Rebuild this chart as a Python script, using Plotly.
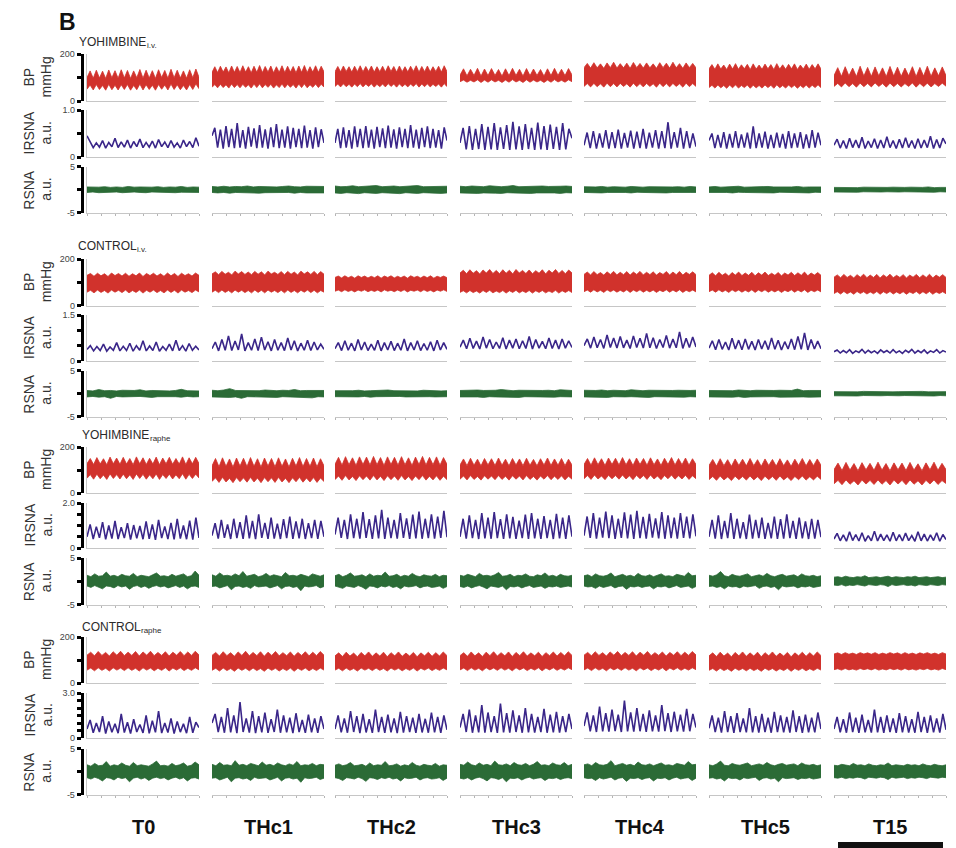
import numpy as np
import plotly.graph_objects as go

W, H = 956, 848

# ---------------- labels ----------------
columns = ["T0", "THc1", "THc2", "THc3", "THc4", "THc5", "T15"]
group_titles = ["YOHIMBINE", "CONTROL", "YOHIMBINE", "CONTROL"]
group_subs = ["i.v.", "i.v.", "raphe", "raphe"]
row_labels = [("BP", "mmHg"), ("IRSNA", "a.u."), ("RSNA", "a.u.")]
bp_range = [0, 200]
bp_ticks = [0, 200]
bp_ticktext = ["0", "200"]
bp_minor = [100]
irsna_max = [1.0, 1.5, 2.0, 3.0]
irsna_top_label = ["1.0", "1.5", "2.0", "3.0"]
irsna_step = 0.5
rsna_range = [-5, 5]
rsna_ticks = [-5, 5]
rsna_ticktext = ["-5", "5"]
rsna_minor = [0]

# ---------------- data: YOHIMBINE i.v. ----------------
bp_hi_yoh_iv = [
    [100,128,97,131,98,127,96,132,99,129,97,133,98,130,96,128,99,134,97,131,98,129,96,133,100,130,97,135,99,131,98,128,97,133,99,136,101],
    [122,146,121,148,123,145,120,149,122,147,121,150,123,146,120,148,122,151,121,147,123,149,120,146,122,150,121,148,123,147,120,149,122,151,121,146,123,150,122,148,124],
    [125,147,124,149,126,146,123,148,125,150,124,147,126,149,123,146,125,148,124,150,126,147,123,149,125,146,124,148,126,150,123,147,125,149,124,146,126,148,123,150,125],
    [110,137,107,135,109,139,106,136,108,138,109,134,106,137,108,139,109,135,106,138,108,136,109,134,106,137,108,139,109,135,108,138,111],
    [142,160,140,163,141,158,139,162,142,165,140,159,141,161,139,164,142,160,140,162,141,158,139,163,142,161,140,165,141,159,139,162,142,160,141],
    [137,155,135,158,136,153,134,157,136,159,135,154,137,156,134,158,136,153,135,157,137,155,134,159,136,154,135,156,137,158,134,153,136,157,135,155,137,158,136],
    [108,142,105,146,107,140,104,148,106,143,105,145,107,141,104,147,106,144,105,140,107,146,104,143,106,148,105,141,107,145,108],
]
bp_lo_yoh_iv = [
    [50,68,47,70,49,66,46,71,48,67,47,69,49,70,46,66,48,72,47,69,49,67,46,70,50,68,47,72,49,69,48,66,47,70,49,73,52],
    [58,70,56,71,57,69,55,72,57,70,56,71,58,69,55,72,57,73,56,70,58,71,55,69,57,72,56,71,58,70,55,72,57,73,56,69,58,72,57,71,59],
    [62,72,60,73,61,71,59,72,61,74,60,72,62,73,59,71,61,72,60,74,62,72,59,73,61,71,60,72,62,74,59,72,61,73,60,71,62,72,59,74,61],
    [82,89,80,88,81,90,79,89,80,90,81,88,79,89,80,91,81,88,79,90,80,89,81,88,79,89,80,91,81,88,80,90,82],
    [62,74,60,75,61,73,59,76,61,74,60,75,62,73,59,76,61,74,60,75,62,73,59,76,61,74,60,75,62,73,59,76,61,74,62],
    [57,67,55,68,56,66,54,68,56,69,55,66,57,68,54,67,56,66,55,68,57,67,54,69,56,66,55,68,57,67,54,66,56,68,55,67,57,69,56],
    [62,75,60,77,61,74,59,76,61,75,60,77,62,74,59,76,61,75,60,74,62,77,59,75,61,76,60,74,62,76,63],
]
irsna_yoh_iv = [
    [0.45,0.33,0.20,0.30,0.21,0.35,0.19,0.31,0.22,0.40,0.20,0.32,0.21,0.36,0.19,0.33,0.22,0.38,0.20,0.31,0.21,0.34,0.19,0.37,0.22,0.32,0.20,0.35,0.21,0.30,0.19,0.36,0.22,0.33,0.20,0.41,0.23],
    [0.45,0.62,0.20,0.58,0.18,0.66,0.21,0.60,0.19,0.72,0.20,0.57,0.18,0.64,0.22,0.61,0.19,0.68,0.20,0.59,0.18,0.63,0.21,0.70,0.19,0.58,0.20,0.65,0.18,0.62,0.21,0.60,0.19,0.67,0.20,0.57,0.18,0.63,0.21,0.59,0.30],
    [0.30,0.60,0.19,0.63,0.20,0.57,0.18,0.65,0.21,0.60,0.19,0.66,0.20,0.58,0.18,0.64,0.21,0.61,0.19,0.67,0.20,0.59,0.18,0.63,0.21,0.60,0.19,0.68,0.20,0.58,0.18,0.62,0.21,0.65,0.19,0.60,0.20,0.57,0.18,0.63,0.35],
    [0.30,0.62,0.16,0.66,0.15,0.60,0.17,0.70,0.15,0.64,0.16,0.72,0.15,0.63,0.17,0.68,0.15,0.75,0.16,0.65,0.15,0.70,0.17,0.62,0.15,0.73,0.16,0.66,0.15,0.69,0.17,0.64,0.15,0.72,0.16,0.60,0.40],
    [0.25,0.52,0.19,0.55,0.18,0.50,0.20,0.57,0.18,0.53,0.19,0.58,0.18,0.51,0.20,0.56,0.18,0.54,0.19,0.60,0.18,0.52,0.20,0.57,0.18,0.55,0.19,0.74,0.18,0.53,0.20,0.62,0.18,0.55,0.19,0.50,0.22],
    [0.35,0.50,0.19,0.47,0.20,0.53,0.18,0.49,0.20,0.55,0.19,0.48,0.20,0.52,0.18,0.65,0.19,0.50,0.20,0.54,0.18,0.47,0.19,0.52,0.20,0.49,0.18,0.55,0.19,0.50,0.20,0.53,0.18,0.48,0.19,0.57,0.20,0.52,0.25],
    [0.25,0.38,0.19,0.35,0.18,0.40,0.20,0.36,0.19,0.42,0.18,0.34,0.20,0.39,0.18,0.36,0.19,0.43,0.20,0.35,0.18,0.38,0.19,0.41,0.20,0.35,0.18,0.39,0.19,0.36,0.20,0.44,0.18,0.37,0.19,0.40,0.28],
]
rsna_hi_yoh_iv = [
    [0.6,0.5,0.55,0.65,0.5,0.6,0.5,0.7,0.55,0.6,0.5,0.55,0.65,0.5,0.6,0.55,0.7,0.5,0.6,0.55],
    [0.7,0.6,0.75,0.6,0.7,0.65,0.8,0.6,0.7,0.65,0.75,0.6,0.7,0.8,0.65,0.6,0.75,0.7,0.6,0.7],
    [0.8,0.65,0.7,0.85,0.65,0.75,0.7,0.9,0.65,0.75,0.8,0.65,0.7,0.75,0.9,0.65,0.7,0.8,0.7,0.75],
    [0.75,0.65,0.8,0.7,0.65,0.85,0.7,0.65,0.75,0.9,0.65,0.7,0.75,0.65,0.8,0.7,0.65,0.75,0.8,0.7],
    [0.65,0.55,0.6,0.7,0.55,0.65,0.6,0.55,0.7,0.6,0.55,0.65,0.6,0.7,0.55,0.6,0.65,0.55,0.7,0.6],
    [0.6,0.7,0.55,0.65,0.6,0.75,0.55,0.6,0.65,0.55,0.7,0.6,0.55,0.65,0.6,0.7,0.55,0.6,0.65,0.6],
    [0.5,0.45,0.55,0.5,0.45,0.55,0.5,0.6,0.45,0.5,0.55,0.45,0.5,0.55,0.45,0.5,0.6,0.45,0.5,0.5],
]
rsna_lo_yoh_iv = [
    [-0.6,-0.5,-0.65,-0.55,-0.6,-0.5,-0.65,-0.55,-0.5,-0.6,-0.65,-0.5,-0.55,-0.6,-0.5,-0.65,-0.55,-0.6,-0.5,-0.6],
    [-0.6,-0.7,-0.6,-0.75,-0.6,-0.65,-0.7,-0.6,-0.75,-0.65,-0.6,-0.7,-0.65,-0.6,-0.75,-0.6,-0.7,-0.65,-0.6,-0.7],
    [-0.7,-0.8,-0.65,-0.75,-0.85,-0.65,-0.7,-0.8,-0.65,-0.75,-0.7,-0.85,-0.65,-0.7,-0.8,-0.65,-0.75,-0.7,-0.8,-0.7],
    [-0.7,-0.75,-0.65,-0.8,-0.7,-0.65,-0.75,-0.8,-0.65,-0.7,-0.75,-0.65,-0.8,-0.7,-0.65,-0.75,-0.7,-0.8,-0.65,-0.7],
    [-0.6,-0.65,-0.55,-0.7,-0.6,-0.55,-0.65,-0.6,-0.7,-0.55,-0.6,-0.65,-0.55,-0.6,-0.7,-0.6,-0.55,-0.65,-0.6,-0.6],
    [-0.6,-0.55,-0.65,-0.6,-0.7,-0.55,-0.6,-0.65,-0.55,-0.6,-0.65,-0.7,-0.55,-0.6,-0.65,-0.55,-0.6,-0.7,-0.55,-0.6],
    [-0.5,-0.55,-0.45,-0.5,-0.55,-0.45,-0.5,-0.55,-0.5,-0.45,-0.55,-0.5,-0.45,-0.5,-0.55,-0.45,-0.5,-0.55,-0.45,-0.5],
]

# ---------------- data: CONTROL i.v. ----------------
bp_hi_ctl_iv = [
    [130,138,126,139,128,137,125,140,129,138,127,139,126,137,128,140,125,138,129,139,127,137,126,140,128,138,125,139,129,137,127,140,130],
    [136,145,133,147,135,143,132,148,136,146,134,144,133,147,135,145,132,148,136,143,134,146,133,147,135,144,132,148,136,145,134,147,133,146,135],
    [121,127,119,128,120,126,118,128,121,127,119,126,120,128,118,127,121,128,119,126,120,127,118,128,121,126,119,127,120,128,118,126,121,127,120],
    [140,152,137,154,139,150,136,153,140,155,138,151,137,154,139,152,136,155,140,151,138,153,137,150,139,154,136,152,140,155,138,151,137,153,140],
    [134,144,132,146,133,142,131,145,134,147,132,143,133,146,131,144,134,147,132,143,133,145,131,142,134,146,132,144,133,147,131,143,134,145,133],
    [130,141,128,143,130,139,127,142,131,144,129,140,130,143,128,141,131,144,129,139,130,142,128,140,131,143,129,141,130,144,128,140,131,142,130],
    [122,132,120,134,121,130,119,133,122,135,120,131,121,134,119,132,122,135,120,130,121,133,119,131,122,134,120,132,121,135,119,131,122,133,121],
]
bp_lo_ctl_iv = [
    [58,66,55,67,57,65,54,67,58,66,56,67,55,65,57,67,54,66,58,67,56,65,55,67,57,66,54,67,58,65,56,67,59],
    [58,66,56,67,57,65,55,67,58,66,56,65,55,67,57,66,55,67,58,65,56,66,55,67,57,65,55,66,58,67,56,66,55,65,58],
    [62,67,60,68,61,66,59,67,62,68,60,66,61,67,59,68,62,66,60,67,61,68,59,66,62,67,60,68,61,66,59,67,62,68,61],
    [57,64,55,65,56,63,54,65,57,66,55,63,56,65,54,64,57,66,55,63,56,65,54,64,57,65,55,63,56,66,54,64,57,65,56],
    [60,67,58,68,59,66,57,68,60,67,58,66,59,68,57,67,60,68,58,66,59,67,57,66,60,68,58,67,59,68,57,66,60,67,59],
    [60,67,58,68,59,66,57,68,60,67,58,66,59,68,57,67,60,68,58,66,59,67,57,66,60,68,58,67,59,68,57,66,60,67,59],
    [52,60,50,61,51,59,49,61,52,60,50,59,51,61,49,60,52,61,50,59,51,60,49,59,52,61,50,60,51,61,49,59,52,60,51],
]
irsna_ctl_iv = [
    [0.38,0.50,0.33,0.47,0.34,0.55,0.32,0.46,0.35,0.60,0.33,0.48,0.34,0.58,0.32,0.50,0.35,0.66,0.33,0.49,0.34,0.62,0.32,0.47,0.35,0.55,0.33,0.68,0.34,0.50,0.32,0.57,0.35,0.48,0.36],
    [0.40,0.62,0.33,0.70,0.35,0.82,0.34,0.65,0.36,0.88,0.33,0.60,0.35,0.72,0.34,0.78,0.36,0.63,0.33,0.70,0.35,0.60,0.34,0.75,0.36,0.66,0.33,0.58,0.35,0.68,0.34,0.62,0.36,0.55,0.38],
    [0.40,0.60,0.34,0.66,0.35,0.58,0.33,0.70,0.36,0.62,0.34,0.55,0.35,0.68,0.33,0.60,0.36,0.64,0.34,0.58,0.35,0.72,0.33,0.60,0.36,0.66,0.34,0.57,0.35,0.63,0.33,0.68,0.36,0.60,0.38],
    [0.45,0.68,0.40,0.74,0.41,0.65,0.39,0.78,0.42,0.70,0.40,0.62,0.41,0.76,0.39,0.68,0.42,0.72,0.40,0.66,0.41,0.80,0.39,0.70,0.42,0.64,0.40,0.75,0.41,0.68,0.39,0.72,0.42,0.66,0.44],
    [0.50,0.72,0.42,0.78,0.43,0.70,0.41,0.85,0.44,0.75,0.42,0.80,0.43,0.68,0.41,0.82,0.44,0.74,0.42,0.90,0.43,0.76,0.41,0.70,0.44,0.83,0.42,0.72,0.43,0.95,0.41,0.74,0.44,0.78,0.46],
    [0.42,0.66,0.37,0.70,0.38,0.62,0.36,0.74,0.39,0.68,0.37,0.72,0.38,0.64,0.36,0.70,0.39,0.66,0.37,0.75,0.38,0.68,0.36,0.63,0.39,0.72,0.37,0.80,0.38,0.92,0.36,0.70,0.39,0.65,0.40],
    [0.30,0.36,0.26,0.34,0.27,0.37,0.25,0.33,0.28,0.38,0.26,0.35,0.27,0.33,0.25,0.36,0.28,0.34,0.26,0.37,0.27,0.33,0.25,0.35,0.28,0.38,0.26,0.34,0.27,0.36,0.25,0.33,0.28,0.37,0.26,0.34,0.29],
]
rsna_hi_ctl_iv = [
    [0.7,0.6,0.9,0.65,0.7,0.6,0.75,0.65,0.7,0.85,0.6,0.7,0.65,0.75,0.6,0.7,0.95,0.65,0.7,0.6],
    [0.75,0.65,0.8,1.1,0.7,0.65,0.75,0.7,0.65,0.8,0.7,0.65,0.75,0.7,0.9,0.65,0.7,0.75,0.65,0.7],
    [0.65,0.6,0.7,0.65,0.75,0.6,0.65,0.7,0.6,0.8,0.65,0.6,0.7,0.65,0.6,0.75,0.65,0.7,0.6,0.65],
    [0.7,0.75,0.65,0.8,0.7,0.65,0.75,0.9,0.7,0.65,0.75,0.7,0.8,0.65,0.7,0.75,0.65,0.85,0.7,0.7],
    [0.75,0.65,0.7,0.8,0.65,0.75,0.7,0.65,0.85,0.7,0.65,0.75,0.7,0.8,0.65,0.7,0.75,0.65,0.7,0.75],
    [0.7,0.65,0.75,0.7,0.65,0.8,0.7,0.65,0.75,0.7,0.65,0.7,0.75,0.65,0.7,1.0,0.65,0.7,0.75,0.7],
    [0.45,0.4,0.5,0.45,0.4,0.5,0.45,0.4,0.5,0.45,0.4,0.45,0.5,0.4,0.45,0.5,0.4,0.45,0.5,0.45],
]
rsna_lo_ctl_iv = [
    [-0.7,-0.6,-0.75,-0.65,-1.0,-0.6,-0.7,-0.65,-0.75,-0.6,-0.7,-0.8,-0.65,-0.6,-0.7,-0.65,-0.75,-0.6,-0.7,-0.65],
    [-0.7,-0.75,-0.65,-0.8,-0.7,-1.0,-0.65,-0.7,-0.75,-0.65,-0.7,-0.8,-0.65,-0.7,-0.75,-0.65,-0.7,-0.9,-0.65,-0.7],
    [-0.65,-0.7,-0.6,-0.65,-0.7,-0.6,-0.75,-0.65,-0.6,-0.7,-0.65,-0.6,-0.7,-0.65,-0.75,-0.6,-0.65,-0.7,-0.6,-0.65],
    [-0.7,-0.65,-0.75,-0.7,-0.8,-0.65,-0.7,-0.75,-0.65,-0.7,-0.8,-0.65,-0.7,-0.75,-0.65,-0.7,-0.75,-0.65,-0.7,-0.7],
    [-0.7,-0.75,-0.65,-0.7,-0.8,-0.65,-0.75,-0.7,-0.65,-0.75,-0.7,-0.8,-0.65,-0.7,-0.75,-0.65,-0.7,-0.75,-0.65,-0.7],
    [-0.7,-0.75,-0.65,-0.7,-0.75,-0.65,-0.8,-0.7,-0.65,-0.75,-0.7,-0.65,-0.75,-0.7,-0.8,-0.65,-0.7,-0.75,-0.65,-0.7],
    [-0.45,-0.5,-0.4,-0.45,-0.5,-0.4,-0.45,-0.5,-0.45,-0.4,-0.5,-0.45,-0.4,-0.45,-0.5,-0.4,-0.45,-0.5,-0.4,-0.45],
]

# ---------------- data: YOHIMBINE raphe ----------------
bp_hi_yoh_raphe = [
    [128,150,124,154,126,149,123,156,127,152,125,155,126,150,123,157,127,153,124,151,126,156,123,152,127,155,125,150,126,157,124,153,127,155,128],
    [118,150,114,153,116,148,113,152,117,151,115,154,116,149,113,152,117,150,114,153,116,148,113,151,117,154,115,150,116,152,114,149,118],
    [125,155,121,158,123,153,120,157,124,156,122,159,123,154,120,157,124,155,121,158,123,153,120,156,124,159,122,155,123,157,121,154,125],
    [122,148,119,151,121,147,118,150,122,149,120,152,121,147,118,150,122,148,119,151,121,146,118,149,122,152,120,148,121,150,119,147,122],
    [124,150,121,153,123,149,120,152,124,151,122,154,123,149,120,152,124,150,121,153,123,148,120,151,124,154,122,150,123,152,121,149,124],
    [120,146,117,149,119,145,116,148,120,147,118,150,119,145,116,148,120,146,117,149,119,144,116,147,120,150,118,146,119,148,121],
    [102,130,98,133,100,128,97,132,101,129,99,134,100,128,97,131,101,130,98,133,100,127,97,131,101,134,99,129,102],
]
bp_lo_yoh_raphe = [
    [64,80,60,82,62,78,59,83,63,80,61,82,62,79,59,83,63,81,60,79,62,83,59,80,63,82,61,79,62,84,60,81,63,82,65],
    [50,66,46,68,48,64,45,67,49,66,47,68,48,65,45,67,49,66,46,68,48,64,45,66,49,68,47,65,48,67,46,65,50],
    [58,74,55,76,57,72,54,75,58,74,56,76,57,73,54,75,58,74,55,76,57,72,54,74,58,76,56,73,57,75,55,73,58],
    [60,74,57,76,59,72,56,75,60,74,58,76,59,73,56,75,60,74,57,76,59,72,56,74,60,76,58,73,59,75,57,73,60],
    [62,76,59,78,61,74,58,77,62,76,60,78,61,75,58,77,62,76,59,78,61,74,58,76,62,78,60,75,61,77,59,75,62],
    [58,72,55,74,57,70,54,73,58,72,56,74,57,71,54,73,58,72,55,74,57,70,54,72,58,74,56,71,57,73,59],
    [40,55,36,57,38,53,35,56,39,55,37,57,38,54,35,56,39,55,36,57,38,53,35,55,39,57,37,54,41],
]
irsna_yoh_raphe = [
    [0.50,1.05,0.40,0.95,0.45,1.15,0.38,1.00,0.42,1.20,0.40,0.92,0.44,1.10,0.37,1.02,0.43,0.98,0.39,1.18,0.41,1.05,0.36,1.25,0.44,0.96,0.40,1.12,0.38,1.30,0.42,1.00,0.39,1.22,0.37,1.35,0.45],
    [0.55,1.10,0.42,1.25,0.45,1.05,0.40,1.30,0.44,1.15,0.41,1.45,0.43,1.20,0.39,1.50,0.45,1.12,0.41,1.35,0.42,1.08,0.40,1.28,0.44,1.40,0.41,1.18,0.43,1.30,0.40,1.10,0.44,1.25,0.41,1.20,0.50],
    [0.60,1.35,0.45,1.25,0.40,1.50,0.44,1.30,0.42,1.60,0.45,1.28,0.41,1.45,0.43,1.70,0.40,1.35,0.44,1.25,0.42,1.55,0.45,1.32,0.40,1.48,0.43,1.62,0.41,1.30,0.44,1.50,0.42,1.40,0.45,1.65,0.48],
    [0.50,1.30,0.42,1.45,0.44,1.25,0.40,1.55,0.43,1.35,0.41,1.60,0.44,1.28,0.40,1.50,0.43,1.38,0.41,1.22,0.44,1.48,0.40,1.55,0.43,1.30,0.41,1.42,0.44,1.25,0.40,1.52,0.43,1.35,0.41,1.45,0.50],
    [0.55,1.40,0.45,1.55,0.42,1.35,0.46,1.62,0.44,1.45,0.41,1.30,0.45,1.58,0.43,1.48,0.40,1.65,0.44,1.38,0.42,1.52,0.46,1.32,0.43,1.60,0.41,1.45,0.44,1.35,0.42,1.55,0.45,1.40,0.43,1.50,0.52],
    [0.50,1.25,0.42,1.45,0.40,1.20,0.44,1.55,0.41,1.30,0.43,1.15,0.40,1.48,0.42,1.25,0.44,1.35,0.41,1.12,0.43,1.40,0.40,1.28,0.42,1.50,0.44,1.20,0.41,1.35,0.43,1.18,0.40,1.30,0.42,1.25,0.48],
    [0.40,0.65,0.32,0.58,0.30,0.72,0.33,0.60,0.31,0.68,0.30,0.55,0.32,0.75,0.31,0.62,0.33,0.58,0.30,0.70,0.32,0.60,0.31,0.66,0.33,0.55,0.30,0.72,0.32,0.62,0.31,0.58,0.33,0.68,0.30,0.60,0.38],
]
rsna_hi_yoh_raphe = [
    [1.3,1.0,1.6,1.1,1.2,2.0,1.1,1.3,1.0,1.5,1.2,1.1,1.7,1.0,1.3,1.2,1.0,1.4,1.8,1.1,1.2,1.0,1.5,1.1,1.3,1.6,1.0,1.2,2.2,1.3],
    [1.4,1.1,1.8,1.2,1.3,1.1,1.6,1.2,2.1,1.1,1.3,1.5,1.0,1.2,1.7,1.1,1.4,1.2,1.0,1.9,1.2,1.3,1.1,1.5,1.2,1.0,1.6,1.3,1.1,1.4],
    [1.2,1.5,1.0,1.3,1.8,1.1,1.2,1.4,1.0,1.6,1.1,1.3,1.2,2.0,1.1,1.2,1.5,1.0,1.3,1.1,1.7,1.2,1.0,1.4,1.2,1.1,1.5,1.0,1.3,1.2],
    [1.3,1.1,1.5,1.2,1.0,1.7,1.2,1.3,1.1,1.4,1.9,1.1,1.2,1.5,1.0,1.3,1.2,1.6,1.1,1.0,1.4,1.2,1.8,1.1,1.3,1.0,1.5,1.2,1.1,1.3],
    [1.2,1.4,1.0,1.6,1.2,1.1,1.3,1.8,1.0,1.2,1.5,1.1,1.3,1.0,1.7,1.2,1.1,1.4,1.0,1.3,1.6,1.1,1.2,1.0,1.5,1.3,1.1,1.9,1.2,1.3],
    [1.3,1.1,1.4,2.1,1.2,1.0,1.5,1.2,1.1,1.3,1.6,1.0,1.2,1.4,1.1,1.7,1.2,1.0,1.3,1.5,1.1,1.2,1.4,1.0,1.6,1.2,1.1,1.3,1.0,1.2],
    [0.9,1.0,0.8,1.1,0.9,0.8,1.0,0.9,1.2,0.8,0.9,1.0,0.8,0.9,1.1,0.8,1.0,0.9,0.8,1.0,0.9,1.1,0.8,0.9,1.0,0.8,0.9,1.0,0.8,0.9],
]
rsna_lo_yoh_raphe = [
    [-1.0,-1.3,-0.9,-1.2,-1.6,-1.0,-1.1,-1.4,-0.9,-1.2,-1.0,-1.7,-1.1,-0.9,-1.3,-1.0,-1.5,-1.1,-0.9,-1.2,-1.0,-1.4,-1.1,-0.9,-1.3,-1.0,-1.6,-1.1,-1.0,-1.3],
    [-1.1,-1.0,-1.4,-1.2,-0.9,-1.8,-1.1,-1.0,-1.3,-1.1,-1.5,-0.9,-1.2,-1.1,-1.0,-1.4,-1.2,-0.9,-1.6,-1.1,-1.0,-1.3,-1.1,-2.0,-1.0,-1.2,-1.1,-0.9,-1.4,-1.1],
    [-1.0,-1.2,-1.5,-1.0,-1.1,-1.3,-0.9,-1.2,-1.7,-1.0,-1.1,-1.4,-1.0,-1.2,-0.9,-1.3,-1.1,-1.6,-1.0,-1.2,-1.1,-0.9,-1.4,-1.1,-1.0,-1.3,-1.2,-1.0,-1.5,-1.1],
    [-1.1,-1.3,-1.0,-1.4,-1.1,-0.9,-1.2,-1.6,-1.0,-1.1,-1.3,-1.0,-1.8,-1.1,-1.2,-1.0,-1.4,-1.1,-0.9,-1.3,-1.1,-1.0,-1.5,-1.1,-1.2,-1.0,-1.3,-1.1,-1.0,-1.2],
    [-1.0,-1.2,-1.1,-1.5,-1.0,-1.3,-1.1,-0.9,-1.4,-1.1,-1.0,-1.7,-1.1,-1.2,-1.0,-1.3,-1.1,-1.0,-1.6,-1.1,-1.2,-1.0,-1.4,-1.1,-0.9,-1.3,-1.1,-1.0,-1.5,-1.1],
    [-1.1,-1.0,-1.3,-1.1,-1.6,-1.0,-1.2,-1.1,-1.4,-1.0,-1.2,-1.1,-0.9,-1.5,-1.1,-1.0,-1.3,-1.1,-1.8,-1.0,-1.2,-1.1,-1.0,-1.4,-1.1,-1.2,-1.0,-1.3,-1.1,-1.0],
    [-0.8,-0.9,-0.7,-1.0,-0.8,-0.9,-0.7,-0.8,-1.0,-0.7,-0.8,-0.9,-0.7,-0.8,-1.1,-0.7,-0.9,-0.8,-0.7,-0.9,-0.8,-1.0,-0.7,-0.8,-0.9,-0.7,-0.8,-0.9,-0.7,-0.8],
]

# ---------------- data: CONTROL raphe ----------------
bp_hi_ctl_raphe = [
    [121,134,118,137,120,133,117,136,121,138,119,134,120,137,117,135,121,138,119,133,120,136,117,134,121,137,119,135,120,138,122],
    [120,133,117,136,119,132,116,135,120,138,118,133,119,136,116,134,120,137,118,132,119,135,116,133,120,136,118,134,119,137,121],
    [118,131,115,134,117,130,114,133,118,135,116,131,117,134,114,132,118,135,116,130,117,133,114,131,118,134,116,132,117,135,119],
    [119,132,116,135,118,131,115,134,119,136,117,132,118,135,115,133,119,136,117,131,118,134,115,132,119,135,117,133,118,136,120],
    [121,133,118,136,120,132,117,135,121,137,119,133,120,136,117,134,121,137,119,132,120,135,117,133,121,136,119,134,120,137,122],
    [118,131,115,134,117,130,114,133,118,135,116,131,117,134,114,132,118,135,116,130,117,133,114,131,118,134,116,132,117,135,119],
    [126,131,124,132,125,130,124,132,126,131,125,132,124,130,125,132,126,131,124,132,125,130,124,131,126,132,125,130,124,132,126],
]
bp_lo_ctl_raphe = [
    [56,65,53,66,55,64,52,66,56,65,54,66,55,64,52,66,56,65,53,64,55,66,52,65,56,66,54,64,55,66,57],
    [55,64,52,65,54,63,51,65,55,64,53,65,54,63,51,65,55,64,52,63,54,65,51,64,55,65,53,63,54,65,56],
    [56,64,53,65,55,63,52,65,56,64,54,65,55,63,52,65,56,64,53,63,55,65,52,64,56,65,54,63,55,65,57],
    [57,65,54,66,56,64,53,66,57,65,55,66,56,64,53,66,57,65,54,64,56,66,53,65,57,66,55,64,56,66,58],
    [57,65,54,66,56,64,53,66,57,65,55,66,56,64,53,66,57,65,54,64,56,66,53,65,57,66,55,64,56,66,58],
    [55,63,52,64,54,62,51,64,55,63,53,64,54,62,51,64,55,63,52,62,54,64,51,63,55,64,53,62,54,64,56],
    [58,62,56,63,57,61,56,63,58,62,57,63,56,61,57,63,58,62,56,63,57,61,56,62,58,63,57,61,56,63,58],
]
irsna_ctl_raphe = [
    [0.60,1.20,0.35,1.00,0.40,1.45,0.30,1.10,0.38,0.95,0.32,1.60,0.36,1.05,0.30,1.25,0.40,0.90,0.34,1.50,0.31,1.15,0.38,1.80,0.33,1.00,0.36,1.30,0.30,1.10,0.39,0.95,0.32,1.40,0.35,1.05,0.70],
    [1.00,1.60,0.40,1.40,0.35,2.00,0.38,1.50,0.33,2.40,0.40,1.30,0.36,1.80,0.32,1.45,0.38,1.70,0.34,1.25,0.40,1.90,0.35,1.50,0.37,1.35,0.33,1.65,0.39,1.20,0.34,1.55,0.38,1.30,0.35,1.45,0.60],
    [0.60,1.50,0.38,1.30,0.35,1.80,0.40,1.45,0.33,1.60,0.37,1.25,0.34,1.90,0.39,1.40,0.35,1.55,0.38,1.30,0.33,1.75,0.36,1.45,0.39,1.35,0.34,1.60,0.37,1.28,0.35,1.70,0.38,1.40,0.34,1.50,0.55],
    [0.70,1.60,0.40,1.90,0.35,1.50,0.38,2.20,0.36,1.70,0.40,1.45,0.34,2.30,0.38,1.65,0.36,1.85,0.40,1.50,0.35,2.00,0.38,1.60,0.36,1.40,0.39,1.95,0.35,1.55,0.38,1.75,0.36,1.45,0.40,1.60,0.60],
    [0.80,1.70,0.45,1.50,0.40,2.10,0.44,1.65,0.42,1.90,0.46,1.55,0.40,2.50,0.44,1.70,0.42,2.00,0.45,1.60,0.41,1.85,0.44,1.50,0.42,2.20,0.46,1.65,0.40,1.75,0.44,1.55,0.42,1.95,0.45,1.60,0.70],
    [0.65,1.50,0.40,1.35,0.36,1.80,0.39,1.45,0.35,1.65,0.40,1.30,0.37,2.00,0.38,1.45,0.36,1.60,0.40,1.35,0.35,1.75,0.39,1.50,0.37,1.40,0.36,1.85,0.40,1.45,0.35,1.55,0.38,1.35,0.37,1.70,0.60],
    [0.60,1.40,0.38,1.25,0.35,1.70,0.39,1.35,0.34,1.55,0.38,1.20,0.36,1.90,0.37,1.40,0.35,1.50,0.39,1.30,0.34,1.65,0.38,1.45,0.36,1.25,0.35,1.75,0.39,1.40,0.34,1.50,0.37,1.30,0.36,1.60,0.55],
]
rsna_hi_ctl_raphe = [
    [1.5,1.2,1.8,1.3,1.4,2.2,1.2,1.5,1.3,1.9,1.4,1.2,2.0,1.3,1.5,1.4,1.2,1.7,2.3,1.3,1.4,1.2,1.8,1.3,1.5,1.9,1.2,1.4,2.1,1.5],
    [1.6,1.3,2.0,1.4,1.5,1.3,2.4,1.4,1.6,1.3,1.8,1.5,1.3,2.1,1.4,1.6,1.3,1.9,1.5,1.3,1.7,1.4,2.2,1.3,1.5,1.4,1.8,1.3,1.6,1.5],
    [1.4,1.7,1.3,1.5,2.0,1.3,1.4,1.6,1.2,1.9,1.3,1.5,1.4,2.2,1.3,1.4,1.7,1.2,1.5,1.3,2.0,1.4,1.2,1.6,1.4,1.3,1.8,1.2,1.5,1.4],
    [1.6,1.4,2.1,1.5,1.3,1.9,1.4,1.6,1.3,2.3,1.5,1.4,1.7,1.3,2.0,1.5,1.4,1.8,1.3,1.6,2.2,1.4,1.5,1.3,1.9,1.5,1.4,2.0,1.3,1.6],
    [1.5,1.7,1.3,2.0,1.5,1.4,1.6,2.4,1.3,1.5,1.8,1.4,1.6,1.3,2.1,1.5,1.4,1.7,1.3,1.6,1.9,1.4,1.5,1.3,1.8,1.6,1.4,2.2,1.5,1.6],
    [1.5,1.3,1.7,2.3,1.4,1.3,1.8,1.5,1.4,1.6,1.9,1.3,1.5,1.7,1.4,2.0,1.5,1.3,1.6,1.8,1.4,1.5,1.7,1.3,1.9,1.5,1.4,1.6,1.3,1.5],
    [1.4,1.3,1.6,1.4,1.3,1.8,1.4,1.5,1.3,1.7,1.4,1.3,1.5,1.4,1.9,1.3,1.5,1.4,1.3,1.6,1.4,1.5,1.3,1.7,1.4,1.3,1.6,1.4,1.3,1.5],
]
rsna_lo_ctl_raphe = [
    [-1.3,-1.6,-1.2,-1.5,-2.0,-1.3,-1.4,-1.8,-1.2,-1.5,-1.3,-2.2,-1.4,-1.2,-1.6,-1.3,-1.9,-1.4,-1.2,-1.5,-1.3,-1.8,-1.4,-1.2,-1.6,-1.3,-2.0,-1.4,-1.3,-1.6],
    [-1.4,-1.3,-1.8,-1.5,-1.2,-2.2,-1.4,-1.3,-1.6,-1.4,-1.9,-1.2,-1.5,-1.4,-1.3,-1.8,-1.5,-1.2,-2.0,-1.4,-1.3,-1.6,-1.4,-2.3,-1.3,-1.5,-1.4,-1.2,-1.7,-1.4],
    [-1.3,-1.5,-1.9,-1.3,-1.4,-1.6,-1.2,-1.5,-2.1,-1.3,-1.4,-1.7,-1.3,-1.5,-1.2,-1.6,-1.4,-2.0,-1.3,-1.5,-1.4,-1.2,-1.8,-1.4,-1.3,-1.6,-1.5,-1.3,-1.9,-1.4],
    [-1.4,-1.6,-1.3,-1.8,-1.4,-1.2,-1.5,-2.0,-1.3,-1.4,-1.7,-1.3,-2.2,-1.4,-1.5,-1.3,-1.8,-1.4,-1.2,-1.6,-1.4,-1.3,-1.9,-1.4,-1.5,-1.3,-1.7,-1.4,-1.3,-1.5],
    [-1.3,-1.5,-1.4,-1.9,-1.3,-1.6,-1.4,-1.2,-1.8,-1.4,-1.3,-2.1,-1.4,-1.5,-1.3,-1.7,-1.4,-1.3,-2.0,-1.4,-1.5,-1.3,-1.8,-1.4,-1.2,-1.6,-1.4,-1.3,-1.9,-1.4],
    [-1.4,-1.3,-1.6,-1.4,-2.0,-1.3,-1.5,-1.4,-1.8,-1.3,-1.5,-1.4,-1.2,-1.9,-1.4,-1.3,-1.6,-1.4,-2.2,-1.3,-1.5,-1.4,-1.3,-1.7,-1.4,-1.5,-1.3,-1.6,-1.4,-1.3],
    [-1.3,-1.4,-1.2,-1.5,-1.3,-1.4,-1.2,-1.3,-1.6,-1.2,-1.3,-1.4,-1.2,-1.3,-1.7,-1.2,-1.4,-1.3,-1.2,-1.5,-1.3,-1.4,-1.2,-1.3,-1.5,-1.2,-1.3,-1.4,-1.2,-1.3],
]

# ---------------- styling / layout constants ----------------
RED = "#d1322c"
PURPLE = "#3a2689"
GREEN = "#2b6b36"
AXGREY = "#c6c6c6"
TXT = "#2a2a2a"
FONT = "Liberation Sans, Arial, sans-serif"
TITLE_SIZE = 12
SUB_SIZE = 8
# advance widths (em) of Liberation Sans capitals, used to place the subscripts
CAP_EM = {"Y": 0.667, "O": 0.778, "H": 0.722, "I": 0.278, "M": 0.833, "B": 0.667,
          "N": 0.722, "E": 0.667, "C": 0.722, "T": 0.611, "R": 0.722, "L": 0.556}

# the page places the plot 8 px in from the top-left corner of the window
PAGE_OFF = 8

col_left = [87, 212, 335, 460, 584, 709, 834]
col_w = 112
rows_px = [
    [(54, 101), (110, 157), (166.7, 212.7)],
    [(259, 305.7), (315, 361), (370.7, 416.7)],
    [(447, 493), (503, 548), (558, 604.7)],
    [(637, 683), (693, 738), (748.7, 794.7)],
]
title_pos = [(78, 42), (77, 246), (81, 435), (81, 627)]
black_axis_x = 81.7
T_SPAN = 8

groups = [
    (bp_hi_yoh_iv, bp_lo_yoh_iv, irsna_yoh_iv, rsna_hi_yoh_iv, rsna_lo_yoh_iv),
    (bp_hi_ctl_iv, bp_lo_ctl_iv, irsna_ctl_iv, rsna_hi_ctl_iv, rsna_lo_ctl_iv),
    (bp_hi_yoh_raphe, bp_lo_yoh_raphe, irsna_yoh_raphe, rsna_hi_yoh_raphe, rsna_lo_yoh_raphe),
    (bp_hi_ctl_raphe, bp_lo_ctl_raphe, irsna_ctl_raphe, rsna_hi_ctl_raphe, rsna_lo_ctl_raphe),
]


def fx(p):
    return (p - PAGE_OFF) / W


def fy(p):
    return 1 - (p - PAGE_OFF) / H


def tname(i):
    return "" if i == 1 else str(i)


fig = go.Figure()
layout = {}
annotations = []

for g in range(4):
    bp_hi, bp_lo, irsna, rsna_hi, rsna_lo = groups[g]
    for s in range(3):
        top, bot = rows_px[g][s]
        r = g * 3 + s
        if s == 0:
            yr = bp_range
            tv, tt, mv = bp_ticks, bp_ticktext, bp_minor
        elif s == 1:
            yr = [0, irsna_max[g]]
            tv, tt = [0, irsna_max[g]], ["0", irsna_top_label[g]]
            mv = list(np.arange(irsna_step, irsna_max[g] - 1e-9, irsna_step))
        else:
            yr = rsna_range
            tv, tt, mv = rsna_ticks, rsna_ticktext, rsna_minor
        for c in range(7):
            idx = r * 7 + c + 1
            xa, ya = "x" + tname(idx), "y" + tname(idx)
            layout["xaxis" + tname(idx)] = dict(
                domain=[fx(col_left[c]), fx(col_left[c] + col_w)], anchor=ya,
                range=[0, T_SPAN], showline=True, linecolor=AXGREY, linewidth=1.2,
                showgrid=False, zeroline=False, showticklabels=False,
                ticks="outside" if s == 2 else "", tickvals=list(range(T_SPAN + 1)),
                ticklen=2, tickwidth=1, tickcolor="#b5b5b5", fixedrange=True,
                automargin=False)
            layout["yaxis" + tname(idx)] = dict(
                domain=[fy(bot), fy(top)], anchor=xa, range=yr,
                showline=(c == 0), linecolor=AXGREY, linewidth=1,
                showgrid=False, zeroline=False, showticklabels=False, ticks="",
                fixedrange=True, automargin=False)
            if s == 0:
                hi, lo, col = bp_hi[c], bp_lo[c], RED
            elif s == 2:
                hi, lo, col = rsna_hi[c], rsna_lo[c], GREEN
            else:
                hi, lo, col = None, None, PURPLE
            if hi is not None:
                fig.add_trace(go.Scatter(
                    x=np.linspace(0, T_SPAN, len(lo)), y=lo, mode="lines",
                    line=dict(color=col, width=0.8), xaxis=xa, yaxis=ya,
                    showlegend=False, hoverinfo="skip"))
                fig.add_trace(go.Scatter(
                    x=np.linspace(0, T_SPAN, len(hi)), y=hi, mode="lines",
                    line=dict(color=col, width=0.8), fill="tonexty", fillcolor=col,
                    xaxis=xa, yaxis=ya, showlegend=False, hoverinfo="skip"))
            else:
                v = irsna[c]
                fig.add_trace(go.Scatter(
                    x=np.linspace(0, T_SPAN, len(v)), y=v, mode="lines",
                    line=dict(color=col, width=1.6), xaxis=xa, yaxis=ya,
                    showlegend=False, hoverinfo="skip"))
        # thick black scale axis on the left of column 1
        base = r * 7 + 1
        layout["yaxis" + str(85 + r)] = dict(
            overlaying="y" + tname(base), anchor="free", position=fx(black_axis_x),
            side="left", range=yr, domain=[fy(bot), fy(top)],
            showline=True, linecolor="black", linewidth=3,
            ticks="outside", ticklen=4, tickwidth=2.5, tickcolor="black",
            tickvals=tv, ticktext=tt, tickfont=dict(size=9, color="#444", family=FONT),
            minor=dict(tickvals=mv, ticks="outside", ticklen=4, tickwidth=2.5,
                       tickcolor="black", showgrid=False),
            showgrid=False, zeroline=False, fixedrange=True, automargin=False)
        fig.add_trace(go.Scatter(x=[None], y=[None], xaxis="x" + tname(base),
                                 yaxis="y" + str(85 + r), showlegend=False,
                                 hoverinfo="skip"))
        # row labels
        yc = (top + bot) / 2
        l1, l2 = row_labels[s]
        annotations.append(dict(text=l1, x=fx(29), y=fy(yc), xref="paper", yref="paper",
                                textangle=-90, showarrow=False, xanchor="center",
                                yanchor="middle", font=dict(size=14, color="#333", family=FONT)))
        annotations.append(dict(text=l2, x=fx(46), y=fy(yc), xref="paper", yref="paper",
                                textangle=-90, showarrow=False, xanchor="center",
                                yanchor="middle", font=dict(size=14, color="#333", family=FONT)))
    # group title with a subscript placed right after it
    tx, ty = title_pos[g]
    annotations.append(dict(text=group_titles[g], x=fx(tx), y=fy(ty), xref="paper",
                            yref="paper", showarrow=False, xanchor="left", yanchor="middle",
                            borderpad=0,
                            font=dict(size=TITLE_SIZE, color=TXT, family=FONT)))
    title_w = sum(CAP_EM[ch] for ch in group_titles[g]) * TITLE_SIZE
    annotations.append(dict(text=group_subs[g], x=fx(tx + title_w + 0.5), y=fy(ty + 3.5),
                            xref="paper", yref="paper", showarrow=False, xanchor="left",
                            yanchor="middle", borderpad=0,
                            font=dict(size=SUB_SIZE, color=TXT, family=FONT)))

# column labels
for c, name in enumerate(columns):
    annotations.append(dict(text=name, x=fx(col_left[c] + col_w / 2),
                            y=fy(827), xref="paper", yref="paper", showarrow=False,
                            xanchor="center", yanchor="middle",
                            font=dict(size=20, color="#111", family=FONT, weight="bold")))

# panel letter
annotations.append(dict(text="B", x=fx(58), y=fy(PAGE_OFF), xref="paper", yref="paper",
                        showarrow=False, xanchor="left", yanchor="top", borderpad=0,
                        font=dict(size=23, color="#111", family=FONT, weight="bold")))

shapes = [dict(type="rect", xref="paper", yref="paper", x0=fx(838), x1=fx(943),
               y0=fy(848), y1=fy(842), fillcolor="#111", line=dict(width=0))]

fig.update_layout(
    template="none",
    width=W, height=H, margin=dict(l=0, r=0, t=0, b=0, pad=0, autoexpand=False),
    paper_bgcolor="white", plot_bgcolor="rgba(0,0,0,0)",
    showlegend=False, annotations=annotations, shapes=shapes,
    font=dict(family=FONT), **layout)

fig.write_html("out.html")
